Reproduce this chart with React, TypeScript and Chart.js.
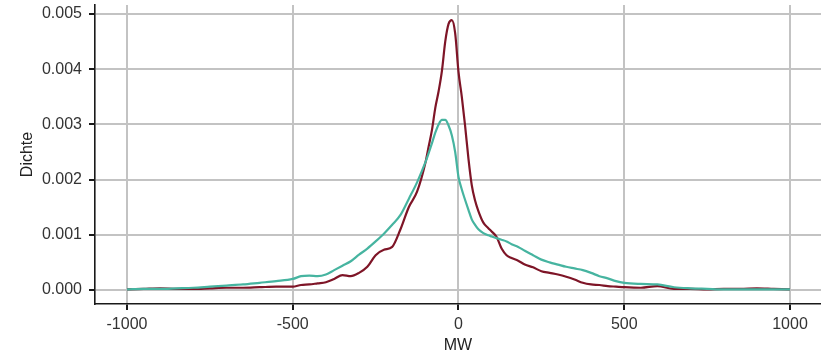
import { useEffect, useRef } from 'react';
import { Chart, registerables } from 'chart.js';

Chart.register(...registerables);

const mwValues = [
  -1000, -950, -900, -850, -800, -750, -700, -650, -600, -550, -500, -475, -450, -425, -400,
  -375, -350, -325, -300, -275, -250, -225, -200, -175, -150, -125, -100, -90, -80, -70, -60,
  -50, -40, -30, -20, -10, 0, 10, 20, 30, 40, 50, 60, 75, 90, 100, 115, 130, 145, 160, 180,
  200, 225, 250, 275, 300, 325, 350, 375, 400, 425, 450, 475, 500, 550, 600, 650, 700, 750,
  800, 850, 900, 950, 1000,
];

const densityRed = [
  0.00001, 0.00002, 0.00003, 0.00002, 0.00002, 0.00003, 0.00004, 0.00004, 0.00005, 0.00006,
  0.00006, 0.00009, 0.0001, 0.00012, 0.00014, 0.0002, 0.00027, 0.00025, 0.00031, 0.00042,
  0.00063, 0.00073, 0.00078, 0.0011, 0.0015, 0.00178, 0.0023, 0.0026, 0.0029, 0.0033, 0.0036,
  0.00397, 0.0045, 0.00482, 0.00489, 0.00465, 0.00395, 0.0035, 0.00297, 0.00238, 0.0019,
  0.00162, 0.00143, 0.00122, 0.00112, 0.00106, 0.00096, 0.00075, 0.00063, 0.00058, 0.00053,
  0.00046, 0.00041, 0.00034, 0.00031, 0.00028, 0.00024, 0.00019, 0.00013, 0.0001, 0.00009,
  0.00007, 0.00006, 0.00005, 0.00004, 0.00007, 0.00002, 0.00002, 0.00001, 0.00002, 0.00002,
  0.00003, 0.00002, 0.00001,
];

const densityTeal = [
  0.00001, 0.00002, 0.00002, 0.00003, 0.00004, 0.00006, 0.00008, 0.0001, 0.00013, 0.00016,
  0.0002, 0.00025, 0.00026, 0.00025, 0.00028, 0.00036, 0.00044, 0.00052, 0.00064, 0.00075,
  0.00088, 0.00102, 0.00118, 0.00136, 0.00165, 0.00195, 0.00231, 0.00248, 0.00266, 0.00285,
  0.003, 0.00308, 0.00308, 0.00298, 0.0028, 0.0025, 0.00205, 0.00182, 0.00163, 0.00145,
  0.00128, 0.00118, 0.0011, 0.00103, 0.00099, 0.00097, 0.00094, 0.00091, 0.00088, 0.00083,
  0.00078, 0.00071, 0.00063, 0.00055, 0.0005, 0.00046, 0.00042, 0.00039, 0.00036, 0.00031,
  0.00025, 0.00021, 0.00016, 0.00013, 0.00011, 0.0001, 0.00005, 0.00003, 0.00002, 0.00001,
  0.00001, 0.00001, 0.00001, 0.00001,
];

const xTickValues = [-1000, -500, 0, 500, 1000];
const yTickValues = [0, 0.001, 0.002, 0.003, 0.004, 0.005];

const FONT = '"Liberation Sans", Arial, sans-serif';

export default function App() {
  const ref = useRef<HTMLCanvasElement | null>(null);

  useEffect(() => {
    if (!ref.current) return;
    const toPts = (ys: number[]) => mwValues.map((x, i) => ({ x, y: ys[i] }));
    const chart = new Chart(ref.current, {
      type: 'line',
      data: {
        datasets: [
          {
            label: 'B',
            data: toPts(densityTeal),
            borderColor: '#46b4a0',
            borderWidth: 2.2,
            pointRadius: 0,
            cubicInterpolationMode: 'monotone',
            fill: false,
          },
          {
            label: 'A',
            data: toPts(densityRed),
            borderColor: '#7e1527',
            borderWidth: 2.2,
            pointRadius: 0,
            cubicInterpolationMode: 'monotone',
            fill: false,
          },
        ],
      },
      options: {
        animation: false,
        responsive: false,
        devicePixelRatio: 1,
        layout: { padding: { top: 5, left: 0, right: 0, bottom: 0 } },
        plugins: { legend: { display: false }, tooltip: { enabled: false } },
        scales: {
          x: {
            type: 'linear',
            min: -1096.5,
            max: 1093.5,
            afterBuildTicks: (s: any) => {
              s.ticks = xTickValues.map((v) => ({ value: v }));
            },
            afterFit: (s: any) => {
              s.height = 51;
              s.paddingLeft = 0;
              s.paddingRight = 0;
            },
            grid: { color: '#c3c3c3', lineWidth: 2, tickColor: '#1a1a1a', tickLength: 6 },
            border: { display: true, color: '#1a1a1a', width: 1.6 },
            ticks: {
              color: '#333333',
              font: { family: FONT, size: 16 },
              padding: 5,
              maxRotation: 0,
              autoSkip: false,
              callback: (v: any) => String(v),
            },
            title: {
              display: true,
              text: 'MW',
              color: '#222222',
              font: { family: FONT, size: 16 },
              padding: { top: 0, bottom: 0 },
            },
          },
          y: {
            type: 'linear',
            min: -0.000254,
            max: 0.005163,
            afterBuildTicks: (s: any) => {
              s.ticks = yTickValues.map((v) => ({ value: v }));
            },
            afterFit: (s: any) => {
              s.width = 95;
              s.paddingTop = 0;
              s.paddingBottom = 0;
            },
            grid: { color: '#c3c3c3', lineWidth: 2, tickColor: '#1a1a1a', tickLength: 6 },
            border: { display: true, color: '#1a1a1a', width: 1.6 },
            ticks: {
              color: '#333333',
              font: { family: FONT, size: 16 },
              padding: 7,
              callback: (v: any) => Number(v).toFixed(3),
            },
            title: {
              display: true,
              text: 'Dichte',
              color: '#222222',
              font: { family: FONT, size: 16 },
              padding: { top: 18, bottom: 0 },
            },
          },
        },
      },
    });
    return () => chart.destroy();
  }, []);

  return (
    <div style={{ position: 'absolute', left: 0, top: 0, width: 821, height: 355, background: '#fff' }}>
      <canvas ref={ref} width={821} height={355} style={{ display: 'block' }} />
    </div>
  );
}
